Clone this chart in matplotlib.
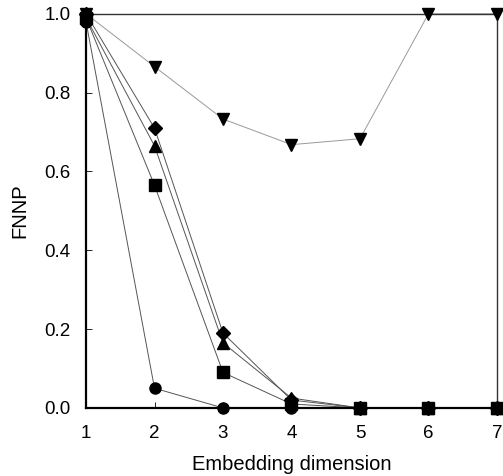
import numpy as np
import matplotlib.pyplot as plt

plt.rcParams['font.family'] = ['Liberation Sans', 'DejaVu Sans']

dims = [1, 2, 3, 4, 5, 6, 7]
fnnp_circle = [0.98, 0.05, 0.0, 0.0, 0.0, 0.0, 0.0]
fnnp_square = [0.99, 0.565, 0.09, 0.01, 0.0, 0.0, 0.0]
fnnp_triup = [0.99, 0.665, 0.165, 0.025, 0.0, 0.0, 0.0]
fnnp_diamond = [1.0, 0.71, 0.19, 0.02, 0.0, 0.0, 0.0]
fnnp_tridown = [1.0, 0.866, 0.733, 0.668, 0.683, 1.0, 1.0]

xticks = [1, 2, 3, 4, 5, 6, 7]
yticks = [0.0, 0.2, 0.4, 0.6, 0.8, 1.0]


def main():
    fig = plt.figure(figsize=[5.03, 4.76], dpi=100)
    ax = fig.add_axes([0.171, 0.143, 0.817, 0.828])

    # (values, marker, size, line colour)
    series = [
        (fnnp_circle, "o", 8, "#555555"),
        (fnnp_square, "s", 8.5, "#555555"),
        (fnnp_triup, "^", 9, "#555555"),
        (fnnp_diamond, "D", 7.5, "#555555"),
        (fnnp_tridown, "v", 9, "#999999"),
    ]
    for vals, mk, ms, lc in series:
        ax.plot(dims, vals, color=lc, lw=0.7, clip_on=False, zorder=2)
        ax.plot(dims, vals, ls="none", marker=mk, ms=ms, color="k",
                clip_on=False, zorder=3)

    ax.set_xlim(1, 7)
    ax.set_ylim(0, 1)
    ax.set_xticks(xticks)
    ax.set_yticks(yticks)
    ax.set_yticklabels(["%.1f" % v for v in yticks])
    ax.tick_params(direction="in", length=4, width=0.6, labelsize=13.5)
    ax.tick_params(axis="x", pad=12)
    ax.tick_params(axis="y", pad=11)
    for side in ["left", "bottom"]:
        ax.spines[side].set_linewidth(1.6)
    for side in ["top", "right"]:
        ax.spines[side].set_linewidth(1.0)
        ax.spines[side].set_color("#333333")

    ax.set_xlabel("Embedding dimension", fontsize=14.5, labelpad=10)
    ax.set_ylabel("FNNP", fontsize=14.5, labelpad=11)

    fig.savefig("out.png", dpi=100)
    plt.close(fig)


if __name__ == "__main__":
    main()
